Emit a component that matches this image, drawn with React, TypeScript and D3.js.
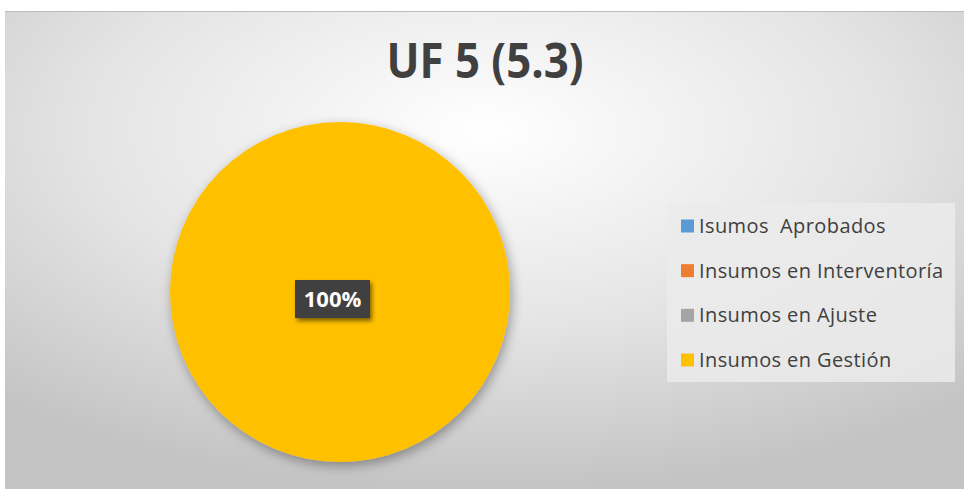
import React from "react";
import * as d3 from "d3";

const categories = ["Isumos  Aprobados", "Insumos en Interventoría", "Insumos en Ajuste", "Insumos en Gestión"];
const values = [0, 0, 0, 100];
const colors = ["#5b9bd5", "#ed7d31", "#a5a5a5", "#ffc000"];
const title = "UF 5 (5.3)";

export default function App() {
  const W = 964, H = 489;
  const cx = 340, cy = 292, r = 170;
  const pie = d3.pie<number>().sort(null).value((d) => d)(values);
  const arc = d3.arc<d3.PieArcDatum<number>>().innerRadius(0).outerRadius(r);
  const total = d3.sum(values);
  const labelArc = d3.arc<d3.PieArcDatum<number>>().innerRadius(0).outerRadius(0);
  const fmt = d3.format(".0%");
  const ly = d3.scalePoint<string>().domain(categories).range([226, 360]);
  return (
    <svg width={W} height={H} style={{ position: "absolute", left: 0, top: 0, fontFamily: "'Open Sans', sans-serif" }}>
      <defs>
        <radialGradient id="bg" cx="0.5" cy="0.25" r="0.75">
          <stop offset="0" stopColor="#ffffff" />
          <stop offset="0.55" stopColor="#e4e4e4" />
          <stop offset="1" stopColor="#c4c4c4" />
        </radialGradient>
        <filter id="sh" x="-20%" y="-20%" width="140%" height="140%">
          <feGaussianBlur in="SourceAlpha" stdDeviation="6" />
          <feOffset dx="2" dy="4" result="b" />
          <feComponentTransfer><feFuncA type="linear" slope="0.35" /></feComponentTransfer>
          <feMerge><feMergeNode /><feMergeNode in="SourceGraphic" /></feMerge>
        </filter>
        <filter id="sh2" x="-30%" y="-30%" width="160%" height="160%">
          <feGaussianBlur in="SourceAlpha" stdDeviation="2" />
          <feOffset dx="2" dy="3" />
          <feComponentTransfer><feFuncA type="linear" slope="0.5" /></feComponentTransfer>
          <feMerge><feMergeNode /><feMergeNode in="SourceGraphic" /></feMerge>
        </filter>
      </defs>
      <rect x={0} y={0} width={W} height={H} fill="#ffffff" />
      <rect x={5} y={11} width={W - 5} height={H - 11} fill="url(#bg)" />
      <rect x={5} y={11} width={W - 5} height={1} fill="#bdbdbd" />
      <text x={485} y={78} textAnchor="middle" fontSize={48} fontWeight="bold" fill="#404040" textLength={197} lengthAdjust="spacingAndGlyphs">{title}</text>
      <g transform={`translate(${cx},${cy})`} filter="url(#sh)">
        {pie.map((p, i) => (
          p.value > 0 ? <path key={i} d={arc(p) || ""} fill={colors[i]} /> : null
        ))}
      </g>
      {pie.map((p, i) => {
        if (p.value <= 0) return null;
        const [lx, lyy] = labelArc.centroid(p);
        return (
          <g key={i} transform={`translate(${cx + lx - 8},${cy + lyy + 7})`}>
            <rect x={-37} y={-19} width={75} height={38} fill="#404040" filter="url(#sh2)" />
            <text x={0.5} y={8} textAnchor="middle" fontSize={22} fontWeight="bold" fill="#ffffff">{fmt(p.value / total)}</text>
          </g>
        );
      })}
      <rect x={667} y={203} width={288} height={179} fill="#ebebeb" opacity={0.85} />
      {categories.map((c, i) => (
        <g key={c} transform={`translate(681,${ly(c)})`}>
          <rect x={0} y={-6.5} width={13} height={13} fill={colors[i]} />
          <text x={18} y={7} fontSize={20} letterSpacing={0.4} fill="#404040" style={{ whiteSpace: "pre" }}>{c}</text>
        </g>
      ))}
    </svg>
  );
}
